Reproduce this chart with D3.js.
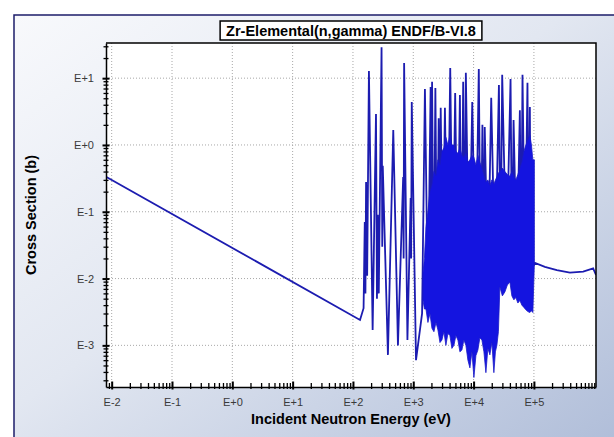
<!DOCTYPE html>
<html>
<head>
<meta charset="utf-8">
<script src="https://cdn.jsdelivr.net/npm/d3@7"></script>
<style>
html, body { margin: 0; padding: 0; background: #fff; }
svg text { font-family: "Liberation Sans", Arial, sans-serif; }
</style>
</head>
<body>
<div id="chart"></div>
<script>
var chartTitle = "Zr-Elemental(n,gamma) ENDF/B-VI.8";
var xTitle = "Incident Neutron Energy (eV)";
var yTitle = "Cross Section (b)";

var xDomain = [8.05e-3, 1.07e6];
var yDomain = [2.38e-4, 33.6];
var xTicks = [1e-2, 1e-1, 1e0, 1e1, 1e2, 1e3, 1e4, 1e5];
var xTickLabels = ["E-2", "E-1", "E+0", "E+1", "E+2", "E+3", "E+4", "E+5"];
var yTicks = [1e-3, 1e-2, 1e-1, 1e0, 1e1];
var yTickLabels = ["E-3", "E-2", "E-1", "E+0", "E+1"];

// pointwise curve (eV, barns): 1/v part, resolved resonances, tall peaks, smooth tail
var energy = [
  8.05e-3, 131, 150, 157, 161, 165, 172, 184, 212, 241, 250, 258, 268, 298, 306, 312,
  380, 466, 557, 680, 692, 705, 800, 905, 922, 944, 1110, 1400,
  1560, 1750, 1940, 2000, 2050, 2180, 2325, 2480, 2640, 2740, 2850, 3090, 3347, 3700,
  4100, 4500, 4950, 5420, 5930, 6300, 6720, 7070, 7440, 8400, 9500, 10800, 12200, 13100,
  14000, 14600, 15300, 17300, 19600, 22700, 26300, 28000, 29800, 35000, 41000, 43500,
  46000, 52000, 58500, 61500, 64700, 71000, 78200, 82000, 85700, 88500, 91000, 96000,
  1.04e5, 1.52e5, 2.4e5, 3.95e5, 6.56e5, 9.6e5, 1.07e6
];
var sigma = [
  0.335, 0.0024, 0.0036, 0.07, 0.006, 0.28, 0.011, 12.8, 0.0017, 2.9, 0.005, 0.09, 0.006, 29, 0.03, 0.49,
  0.00072, 1.68, 0.001, 0.33, 0.02, 16.9, 0.0012, 0.16, 0.02, 4.4, 0.0006, 0.003,
  6.9, 0.004, 7.4, 0.006, 8.8, 0.005, 7.1, 0.006, 2.5, 0.008, 3.6, 0.01, 3.6, 0.01,
  14.2, 0.01, 6.0, 0.01, 5.6, 0.01, 8.8, 0.01, 12, 0.01, 4.4, 0.01, 13.7, 0.01,
  2.0, 0.01, 1.86, 0.01, 5.1, 0.01, 7.9, 0.015, 11.2, 0.015, 9.7, 0.015,
  2.37, 0.015, 3.3, 0.015, 11.2, 0.015, 8.5, 0.015, 3.7, 0.015, 0.54, 0.015,
  0.0171, 0.015, 0.0134, 0.0123, 0.0127, 0.0142, 0.0113
];

// envelope of the dense resonance region, looks solid in the plot
var bandEnergy = [1445, 1530, 1622, 1750, 1890, 2040, 2200, 2380, 2563, 2770, 2985, 3220, 3475, 3750,
  4050, 4370, 4720, 5090, 5495, 5930, 6400, 6900, 7450, 8050, 8690, 9380, 10120, 10920, 11780, 12720,
  13740, 14830, 16000, 17260, 18620, 20100, 21690, 23000, 24320, 25800, 27290, 30000, 33010, 36300,
  39970, 43100, 46540, 50200, 54200, 58500, 63200, 68200, 73600, 79400, 85700, 91000, 96100, 101800];
var bandTop = [0.012, 0.02, 0.06, 0.1, 0.2, 0.25, 0.4, 0.35, 0.6, 0.5, 0.8, 0.9, 1.3, 1.0,
  1.4, 1.0, 1.0, 0.8, 0.75, 0.9, 0.7, 0.65, 0.75, 0.55, 0.6, 0.7, 0.65, 0.5, 0.7, 0.55,
  0.45, 0.35, 0.28, 0.3, 0.25, 0.3, 0.26, 0.3, 0.33, 0.38, 0.4, 0.45, 0.4, 0.36,
  0.34, 0.4, 0.34, 0.3, 0.36, 0.45, 0.55, 0.8, 1.0, 1.2, 1.4, 1.0, 0.6, 0.6];
var bandBottom = [0.0048, 0.0035, 0.0035, 0.0022, 0.003, 0.0018, 0.0016, 0.0022, 0.0017, 0.0011, 0.0012, 0.0016, 0.001, 0.0015,
  0.0014, 0.0009, 0.001, 0.0014, 0.0012, 0.0008, 0.00085, 0.0012, 0.001, 0.0006, 0.00046, 0.0008, 0.00033, 0.0007, 0.00085, 0.0013,
  0.0012, 0.0008, 0.00039, 0.0009, 0.00072, 0.0011, 0.00039, 0.0008, 0.001, 0.0016, 0.0075, 0.0055, 0.0063, 0.008,
  0.0089, 0.0055, 0.0048, 0.0052, 0.0043, 0.0047, 0.004, 0.0037, 0.0034, 0.0032, 0.0031, 0.0033, 0.0031, 0.0171];

var W = 614, H = 437;
var margin = {left: 106, top: 43, right: 18, bottom: 50},
    width = W - margin.left - margin.right,
    height = H - margin.top - margin.bottom;

var svg = d3.select("#chart").append("svg")
    .attr("width", W)
    .attr("height", H);

var defs = svg.append("defs");
var grad = defs.append("linearGradient")
    .attr("id", "bg")
    .attr("x1", 0).attr("y1", 0).attr("x2", 1).attr("y2", 1);
grad.append("stop").attr("offset", 0).attr("stop-color", "#f8f9fc");
grad.append("stop").attr("offset", 0.45).attr("stop-color", "#e2e7f1");
grad.append("stop").attr("offset", 1).attr("stop-color", "#aebcd8");

defs.append("clipPath").attr("id", "plotclip")
  .append("rect").attr("width", width).attr("height", height);

// outer frame
svg.append("rect").attr("width", W).attr("height", H).attr("fill", "#ffffff");
svg.append("rect")
    .attr("x", 14).attr("y", 15)
    .attr("width", W).attr("height", H)
    .attr("fill", "url(#bg)");
svg.append("path")
    .attr("d", "M14," + H + "V15H" + W)
    .attr("fill", "none")
    .attr("stroke", "#1c1c6a")
    .attr("stroke-width", 1.5);

var x = d3.scaleLog().domain(xDomain).range([0, width]);
var y = d3.scaleLog().domain(yDomain).range([height, 0]);

var g = svg.append("g")
    .attr("transform", "translate(" + margin.left + "," + margin.top + ")");

g.append("rect")
    .attr("width", width)
    .attr("height", height)
    .attr("fill", "#ffffff");

// dotted grid
g.selectAll(".vgrid")
    .data(xTicks)
  .enter().append("line")
    .attr("x1", function(d) { return x(d); })
    .attr("x2", function(d) { return x(d); })
    .attr("y1", 0).attr("y2", height)
    .attr("stroke", "#a8a8a8")
    .attr("stroke-dasharray", "1,2");
g.selectAll(".hgrid")
    .data(yTicks)
  .enter().append("line")
    .attr("y1", function(d) { return y(d); })
    .attr("y2", function(d) { return y(d); })
    .attr("x1", 0).attr("x2", width)
    .attr("stroke", "#a8a8a8")
    .attr("stroke-dasharray", "1,2");

var plot = g.append("g").attr("clip-path", "url(#plotclip)");

var points = energy.map(function(e, i) { return [e, sigma[i]]; });
var line = d3.line()
    .x(function(d) { return x(d[0]); })
    .y(function(d) { return y(d[1]); });

plot.append("path")
    .datum(points)
    .attr("d", line)
    .attr("fill", "none")
    .attr("stroke", "#1c1cb0")
    .attr("stroke-width", 1.8)
    .attr("stroke-linejoin", "miter");

var band = bandEnergy.map(function(e, i) { return [e, bandTop[i], bandBottom[i]]; });
var area = d3.area()
    .x(function(d) { return x(d[0]); })
    .y0(function(d) { return y(d[2]); })
    .y1(function(d) { return y(d[1]); });

plot.append("path")
    .datum(band)
    .attr("d", area)
    .attr("fill", "#1414e0")
    .attr("stroke", "#1a1ac8")
    .attr("stroke-width", 0.8);

// minor ticks from the scales
var xMinor = x.ticks().filter(function(d) { return xTicks.indexOf(d) < 0; });
var yMinor = y.ticks().filter(function(d) { return yTicks.indexOf(d) < 0; });

var xAxisMinor = g.append("g")
    .attr("transform", "translate(0," + height + ")")
    .call(d3.axisBottom(x).tickValues(xMinor).tickSize(0).tickFormat(""));
xAxisMinor.select(".domain").remove();
xAxisMinor.selectAll(".tick line").attr("y1", -4).attr("y2", 2).attr("stroke-width", 1.3);

var yAxisMinor = g.append("g")
    .call(d3.axisLeft(y).tickValues(yMinor).tickSize(0).tickFormat(""));
yAxisMinor.select(".domain").remove();
yAxisMinor.selectAll(".tick line").attr("x1", -2.5).attr("x2", 2.5).attr("stroke-width", 1.3);

var xAxis = g.append("g")
    .attr("transform", "translate(0," + height + ")")
    .call(d3.axisBottom(x).tickValues(xTicks).tickSize(0).tickSizeOuter(0).tickPadding(11)
      .tickFormat(function(d, i) { return xTickLabels[i]; }));
xAxis.selectAll(".tick line").attr("y1", -5.5).attr("y2", 2.5).attr("stroke-width", 2);
xAxis.select(".domain").attr("stroke-width", 1.5);
xAxis.selectAll("text").attr("font-size", "11px").attr("fill", "#3a3a3a")
    .style("font-family", "'Liberation Sans', Arial, sans-serif");

var yAxis = g.append("g")
    .call(d3.axisLeft(y).tickValues(yTicks).tickSize(0).tickSizeOuter(0).tickPadding(12)
      .tickFormat(function(d, i) { return yTickLabels[i]; }));
yAxis.selectAll(".tick line").attr("x1", -3.5).attr("x2", 3.5).attr("stroke-width", 2);
yAxis.select(".domain").attr("stroke-width", 1.5);
yAxis.selectAll("text").attr("font-size", "11px").attr("fill", "#3a3a3a")
    .style("font-family", "'Liberation Sans', Arial, sans-serif");

// top and right border of the plot
g.append("path")
    .attr("d", "M0,0H" + width + "V" + height)
    .attr("fill", "none")
    .attr("stroke", "#000")
    .attr("stroke-width", 1.5);

// titles
var titleBox = svg.append("rect");
var titleText = svg.append("text")
    .attr("x", margin.left + width / 2)
    .attr("y", 35.5)
    .attr("text-anchor", "middle")
    .attr("font-size", "14.5px")
    .attr("font-weight", "bold")
    .text(chartTitle);
var tb = titleText.node().getBBox();
titleBox
    .attr("x", tb.x - 6)
    .attr("y", 21)
    .attr("width", tb.width + 12)
    .attr("height", 19)
    .attr("fill", "#ffffff")
    .attr("stroke", "#000")
    .attr("stroke-width", 1.5);

svg.append("text")
    .attr("x", margin.left + width / 2)
    .attr("y", 424)
    .attr("text-anchor", "middle")
    .attr("font-size", "14.5px")
    .attr("font-weight", "bold")
    .text(xTitle);

svg.append("text")
    .attr("transform", "translate(31," + (margin.top + height / 2) + ") rotate(-90)")
    .attr("text-anchor", "middle")
    .attr("dy", "0.35em")
    .attr("font-size", "14.5px")
    .attr("font-weight", "bold")
    .text(yTitle);
</script>
</body>
</html>
